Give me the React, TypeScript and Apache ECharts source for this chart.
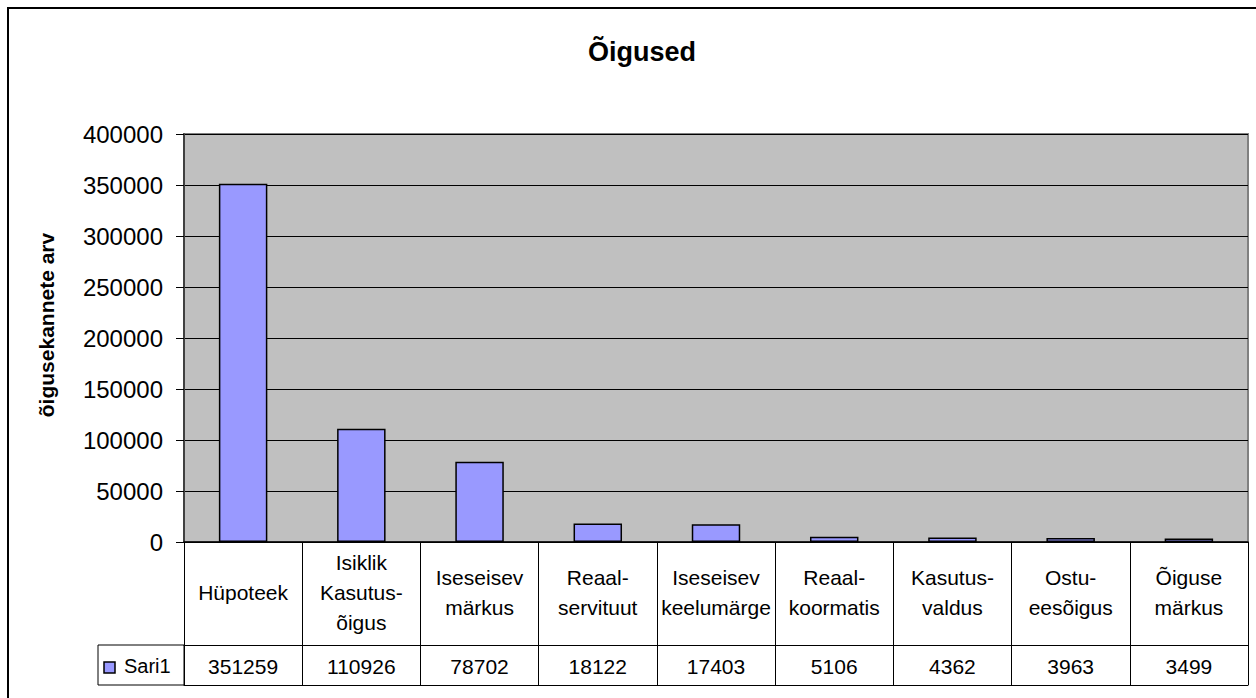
import React, { useEffect, useRef } from "react";
import * as echarts from "echarts";

const categories = [
  "Hüpoteek",
  "Isiklik\nKasutus-\nõigus",
  "Iseseisev\nmärkus",
  "Reaal-\nservituut",
  "Iseseisev\nkeelumärge",
  "Reaal-\nkoormatis",
  "Kasutus-\nvaldus",
  "Ostu-\neesõigus",
  "Õiguse\nmärkus",
];
const values = [351259, 110926, 78702, 18122, 17403, 5106, 4362, 3963, 3499];
const seriesName = "Sari1";
const title = "Õigused";
const yAxisName = "õigusekannete arv";

const FONT = "'Liberation Sans', Arial, sans-serif";

export default function App() {
  const ref = useRef<HTMLDivElement>(null);
  useEffect(() => {
    const chart = echarts.init(ref.current!, null, { renderer: "svg" });
    const gridLeft = 184;
    const gridTop = 134;
    const gridRight = 8;
    const gridHeight = 408;
    const headerH = 103;
    const valueH = 40;
    const gridBottomY = gridTop + gridHeight;
    chart.setOption({
      animation: false,
      backgroundColor: "#ffffff",
      title: {
        text: title,
        left: 637,
        textAlign: "center",
        top: 33,
        textStyle: { fontFamily: FONT, fontSize: 27, fontWeight: "bold", color: "#000" },
      },
      grid: {
        left: gridLeft,
        top: gridTop,
        right: gridRight,
        height: gridHeight,
        show: true,
        backgroundColor: "#c0c0c0",
        borderColor: "#808080",
        borderWidth: 2,
      },
      xAxis: [
        {
          type: "category",
          data: categories,
          position: "bottom",
          axisLine: { show: true, lineStyle: { color: "#000", width: 1.5 } },
          axisTick: { show: true, interval: 0, length: headerH, lineStyle: { color: "#000", width: 1 } },
          axisLabel: {
            interval: 0,
            margin: headerH / 2 - 1,
            verticalAlign: "middle",
            fontFamily: FONT,
            fontSize: 21,
            lineHeight: 30,
            color: "#000",
          },
          splitLine: { show: false },
        },
        {
          type: "category",
          data: values.map((v) => String(v)),
          position: "bottom",
          offset: headerH,
          axisLine: { show: true, lineStyle: { color: "#000", width: 1 } },
          axisTick: { show: true, interval: 0, length: valueH, lineStyle: { color: "#000", width: 1 } },
          axisLabel: {
            interval: 0,
            margin: valueH / 2 + 1,
            verticalAlign: "middle",
            fontFamily: FONT,
            fontSize: 21,
            color: "#000",
          },
          splitLine: { show: false },
        },
        {
          type: "category",
          data: categories.map(() => ""),
          position: "bottom",
          offset: headerH + valueH,
          axisLine: { show: true, lineStyle: { color: "#000", width: 1 } },
          axisTick: { show: false },
          axisLabel: { show: false },
        },
      ],
      yAxis: {
        type: "value",
        min: 0,
        max: 400000,
        interval: 50000,
        axisLine: { show: true, lineStyle: { color: "#404040", width: 2 } },
        axisTick: { show: true, inside: false, length: 8, lineStyle: { color: "#000", width: 1 } },
        axisLabel: {
          fontFamily: FONT,
          fontSize: 24,
          color: "#000",
          margin: 21,
          formatter: (v: number) => String(v),
        },
        splitLine: { show: true, lineStyle: { color: "#000", width: 1 } },
      },
      series: [
        {
          name: seriesName,
          type: "bar",
          xAxisIndex: 0,
          data: values,
          barWidth: "41%",
          itemStyle: { color: "#9999ff", borderColor: "#000", borderWidth: 1.5 },
        },
      ],
      graphic: [
        {
          type: "rect",
          shape: { x: 8, y: 8, width: 1400, height: 900 },
          style: { fill: "none", stroke: "#000", lineWidth: 2 },
          silent: true,
          z: 100,
        },
        {
          type: "text",
          x: 46,
          y: 325,
          rotation: Math.PI / 2,
          style: {
            text: yAxisName,
            fontFamily: FONT,
            fontSize: 21,
            fontWeight: "bold",
            fill: "#000",
            align: "center",
            verticalAlign: "middle",
          },
          silent: true,
        },
        {
          type: "rect",
          shape: { x: 98, y: gridBottomY + headerH, width: gridLeft - 98, height: valueH },
          style: { fill: "none", stroke: "#000", lineWidth: 1 },
          silent: true,
        },
        {
          type: "rect",
          shape: { x: 104, y: gridBottomY + headerH + 17, width: 11, height: 11 },
          style: { fill: "#9999ff", stroke: "#000", lineWidth: 1.5 },
          silent: true,
        },
        {
          type: "text",
          x: 124,
          y: gridBottomY + headerH + valueH / 2 + 1,
          style: {
            text: seriesName,
            fontFamily: FONT,
            fontSize: 20,
            fill: "#000",
            verticalAlign: "middle",
            align: "left",
          },
          silent: true,
        },
      ],
    });
    return () => chart.dispose();
  }, []);
  return (
    <div
      ref={ref}
      style={{ position: "absolute", left: 0, top: 0, width: 1256, height: 698 }}
    />
  );
}
